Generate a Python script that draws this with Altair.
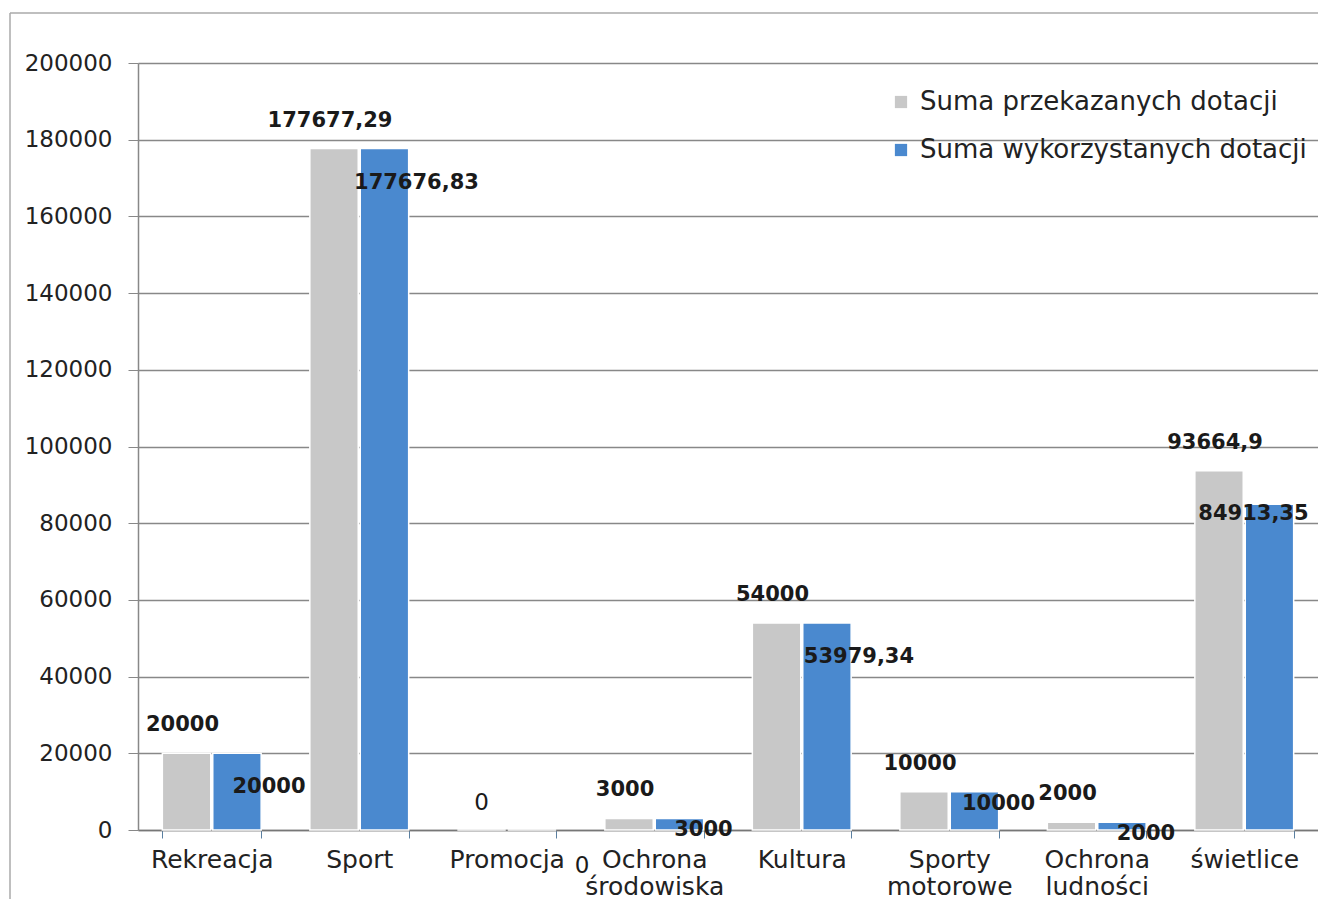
import altair as alt
import pandas as pd

categories = ["Rekreacja", "Sport", "Promocja", "Ochrona\nśrodowiska", "Kultura",
              "Sporty\nmotorowe", "Ochrona\nludności", "świetlice"]
przekazane = [20000, 177677.29, 0, 3000, 54000, 10000, 2000, 93664.9]
wykorzystane = [20000, 177676.83, 0, 3000, 53979.34, 10000, 2000, 84913.35]
series = ["Suma przekazanych dotacji", "Suma wykorzystanych dotacji"]
colors = ["#c8c8c8", "#4a89cf"]
y_ticks = list(range(0, 200001, 20000))

rows = []
for i, c in enumerate(categories):
    rows.append({"cat": c, "series": series[0], "value": przekazane[i]})
    rows.append({"cat": c, "series": series[1], "value": wykorzystane[i]})
df = pd.DataFrame(rows)

FONT = "DejaVu Sans"
LAST = categories[-1]

x_enc = alt.X("cat:N", sort=categories, title=None,
              scale=alt.Scale(paddingInner=0.33, paddingOuter=0.165),
              axis=alt.Axis(labelAngle=0, labelFontSize=25, labelFont=FONT,
                            labelColor="#222222", labelLineHeight=27,
                            labelExpr="split(datum.label, '\\n')",
                            labelPadding=9, tickBand="extent", tickSize=8,
                            tickColor="#5a7fa0", domainColor="#777777",
                            domainWidth=1.5, labelBaseline="top"))
y_enc = alt.Y("value:Q", title=None,
              scale=alt.Scale(domain=[0, 200000], nice=False),
              axis=alt.Axis(values=y_ticks, labelFontSize=23, labelFont=FONT,
                            labelColor="#222222", labelPadding=16, tickSize=10,
                            tickColor="#888888", gridColor="#888888",
                            gridWidth=1.3, domainColor="#888888",
                            domainWidth=1.5, format="d"))
xoff = alt.XOffset("series:N", sort=series,
                   scale=alt.Scale(paddingInner=0.04))

base = alt.Chart(df).transform_calculate(
    lbl="replace(toString(datum.value), '.', ',')"
)

bars = base.mark_bar(stroke="white", strokeWidth=1.5).encode(
    x=x_enc, y=y_enc, xOffset=xoff,
    color=alt.Color("series:N", sort=series,
                    scale=alt.Scale(domain=series, range=colors),
                    legend=alt.Legend(title=None, orient="none", legendX=750,
                                      legendY=26, symbolType="square",
                                      symbolSize=150, symbolStrokeWidth=0,
                                      labelFontSize=26, labelFont=FONT,
                                      labelColor="#222222", rowPadding=22,
                                      labelOffset=6, labelLimit=500))
)

def labels(cond, bold, dx, dy, size=None):
    return base.transform_filter(cond).mark_text(
        fontSize=size or (21 if bold else 23), font=FONT,
        fontWeight="bold" if bold else "normal",
        color="#1a1a1a", dx=dx, dy=dy, baseline="middle").encode(
        x=alt.X("cat:N", sort=categories), y="value:Q", xOffset=xoff,
        text="lbl:N")

g, b = series
lab_g = labels(f"datum.series == '{g}' && datum.value > 0", True, -4, -28)
lab_b_big = labels(f"datum.series == '{b}' && datum.value >= 15000 && datum.cat != '{LAST}'",
                   True, 32, 34)
lab_b_last = labels(f"datum.series == '{b}' && datum.cat == '{LAST}'", True, -16, 10)
lab_b_small = labels(f"datum.series == '{b}' && datum.value > 0 && datum.value < 15000",
                     True, 24, 12)
lab_g0 = labels(f"datum.series == '{g}' && datum.value == 0", False, 0, -27)
lab_b0 = labels(f"datum.series == '{b}' && datum.value == 0", False, 50, 36)

frame = alt.Chart(alt.Data(values=[{"k": 1}])).mark_rule(
    color="#aaaaaa", strokeWidth=1.5).encode(
    x=alt.value(-128), y=alt.value(-50), y2=alt.value(845))
frame_top = alt.Chart(alt.Data(values=[{"k": 1}])).mark_rule(
    color="#aaaaaa", strokeWidth=1.5).encode(
    x=alt.value(-128), x2=alt.value(1180), y=alt.value(-50))

chart = alt.layer(bars, lab_g, lab_b_big, lab_b_last, lab_b_small, lab_g0, lab_b0,
                  frame, frame_top).properties(
    width=1180, height=767,
    autosize=alt.AutoSizeParams(type="none"),
    padding={"left": 130, "top": 55, "right": 0, "bottom": 69},
    background="white",
).configure_view(stroke=None)

chart.save("out.html", embed_options={"renderer": "svg", "actions": False})
